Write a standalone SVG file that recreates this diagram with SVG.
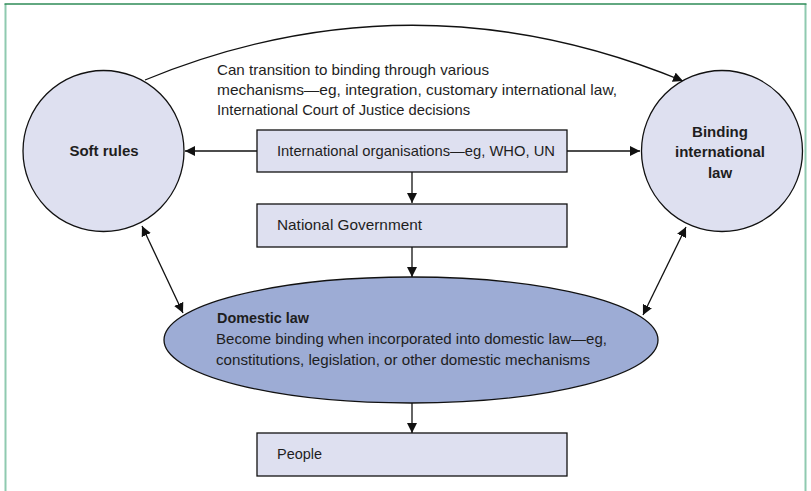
<svg xmlns="http://www.w3.org/2000/svg" width="811" height="491" viewBox="0 0 811 491">
<style>
.t{font-family:"Liberation Sans",Arial,sans-serif;font-size:15px;fill:#1e1e1e}
.b{font-weight:bold}
.shape{fill:#dee0f0;stroke:#111;stroke-width:1.3}
.ell{fill:#9dacd5;stroke:#111;stroke-width:1.3}
.c{fill:none;stroke:#111;stroke-width:1.3}
</style>
<defs>
<marker id="ah" viewBox="0 0 10 10" refX="10" refY="5" markerWidth="10" markerHeight="10" markerUnits="userSpaceOnUse" orient="auto-start-reverse">
<path d="M0,0 L10,5 L0,10 z" fill="#111"/>
</marker>
</defs>
<rect x="0" y="0" width="811" height="491" fill="#fff"/>
<g id="frame">
<line x1="5.5" y1="4" x2="5.5" y2="491" stroke="#8fcab0" stroke-width="2"/>
<line x1="805.5" y1="4" x2="805.5" y2="491" stroke="#8fcab0" stroke-width="2"/>
<line x1="4.5" y1="4" x2="806.5" y2="4" stroke="#2e8b57" stroke-width="1.6"/>
</g>
<g id="connectors">
<path class="c" d="M145,80 Q413,-30 683,81" marker-end="url(#ah)"/>
<line class="c" x1="257" y1="151" x2="185" y2="151" marker-end="url(#ah)"/>
<line class="c" x1="567" y1="151" x2="640" y2="151" marker-end="url(#ah)"/>
<line class="c" x1="412" y1="172" x2="412" y2="203" marker-end="url(#ah)"/>
<line class="c" x1="412" y1="247" x2="412" y2="277" marker-end="url(#ah)"/>
<line class="c" x1="412" y1="403" x2="412" y2="433" marker-end="url(#ah)"/>
<line class="c" x1="142" y1="226" x2="183" y2="313" marker-start="url(#ah)" marker-end="url(#ah)"/>
<line class="c" x1="686" y1="227" x2="643" y2="315" marker-start="url(#ah)" marker-end="url(#ah)"/>
</g>
<g id="transition-label">
<text class="t" x="217" y="75" textLength="272" lengthAdjust="spacingAndGlyphs">Can transition to binding through various</text>
<text class="t" x="217" y="95" textLength="400" lengthAdjust="spacingAndGlyphs">mechanisms—eg, integration, customary international law,</text>
<text class="t" x="217" y="115" textLength="253" lengthAdjust="spacingAndGlyphs">International Court of Justice decisions</text>
</g>
<g id="soft-rules">
<circle class="shape" cx="103.5" cy="151" r="80.5"/>
<text class="t b" x="104" y="156" text-anchor="middle">Soft rules</text>
</g>
<g id="binding-law">
<circle class="shape" cx="722" cy="151" r="80.5"/>
<text class="t b" x="720" y="137" text-anchor="middle">Binding</text>
<text class="t b" x="720" y="157" text-anchor="middle">international</text>
<text class="t b" x="720" y="178" text-anchor="middle">law</text>
</g>
<g id="intl-orgs">
<rect class="shape" x="257" y="130" width="310" height="42"/>
<text class="t" x="277" y="156" textLength="278" lengthAdjust="spacingAndGlyphs">International organisations—eg, WHO, UN</text>
</g>
<g id="national-gov">
<rect class="shape" x="257" y="204" width="310" height="43"/>
<text class="t" x="277" y="230" textLength="145" lengthAdjust="spacingAndGlyphs">National Government</text>
</g>
<g id="domestic-law">
<ellipse class="ell" cx="411" cy="340" rx="247" ry="63"/>
<text class="t b" x="217" y="323" textLength="92" lengthAdjust="spacingAndGlyphs">Domestic law</text>
<text class="t" x="216" y="344" textLength="391" lengthAdjust="spacingAndGlyphs">Become binding when incorporated into domestic law—eg,</text>
<text class="t" x="216" y="365" textLength="374" lengthAdjust="spacingAndGlyphs">constitutions, legislation, or other domestic mechanisms</text>
</g>
<g id="people">
<rect class="shape" x="257" y="433" width="310" height="43"/>
<text class="t" x="277" y="459" textLength="45" lengthAdjust="spacingAndGlyphs">People</text>
</g>
</svg>
